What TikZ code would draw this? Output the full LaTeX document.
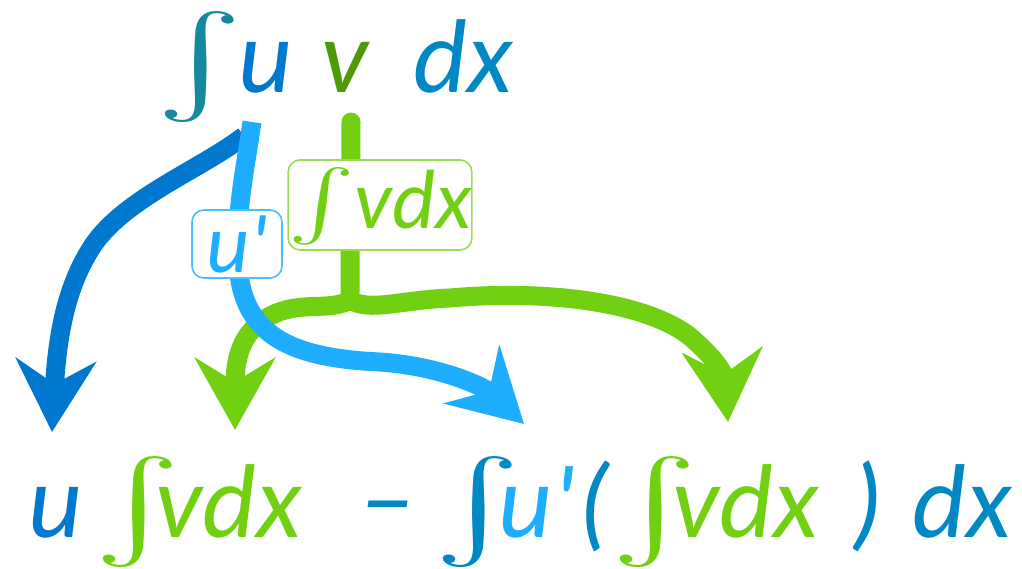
\documentclass[tikz,border=0pt]{standalone}
\usepackage{fontspec}
\setmainfont{Carlito}[Ligatures=TeXOff]
\usetikzlibrary{arrows.meta}
\definecolor{dblue}{HTML}{0078CF}
\definecolor{mblue}{HTML}{0088C4}
\definecolor{lblue}{HTML}{1EADFF}
\definecolor{lgreen}{HTML}{72D012}
\definecolor{dgreen}{HTML}{4E9A06}
\definecolor{intcol}{HTML}{17899E}
\definecolor{lbluebd}{HTML}{4DBEFF}
\definecolor{lgreenbd}{HTML}{9EDB55}
\newcommand\Intg[2]{{\normalsize\scalebox{#1}[#2]{$\int$}}}
\tikzset{
  big/.style={inner sep=0pt, anchor=base west, font=\fontsize{105}{110}\selectfont\itshape},
  intg/.style={big, xslant=-0.15, transform shape},
  lbl/.style={draw, rounded corners=12pt, fill=white, line width=1.6pt, inner sep=0pt,
              font=\fontsize{84}{90}\selectfont\itshape},
  stroke/.style={line width=19pt, line cap=butt},
  arr/.style={stroke, -{Stealth[length=72pt,width=80pt,inset=24pt]}},
}
\begin{document}
\begin{tikzpicture}[x=1pt,y=-1pt]
\useasboundingbox (0,0) rectangle (1022,568);
% top expression
\node[intg, text=intcol] (ti) at (153,92) {\Intg{15}{10}};
\node[big, text=dblue] (tu) at (238,92) {u};
\node[big, text=dgreen] (tv) at (321,92) {v};
\node[big, text=mblue] (tdx) at (413,92) {dx};
% bottom expression
\node[big, text=dblue] (bu) at (28,537) {u};
\node[intg, text=lgreen] (bi1) at (91,537) {\Intg{15}{10}};
\node[big, text=lgreen] (bvdx) at (155,537) {vdx};
\node[big, text=mblue] (bmin) at (360,537) {−};
\node[intg, text=mblue] (bi2) at (431,537) {\Intg{15}{10}};
\node[big, text=lblue] (bup) at (498,537) {u'};
\node[big, text=mblue] (blp) at (578,537) {(};
\node[intg, text=lgreen] (bi3) at (608,537) {\Intg{15}{10}};
\node[big, text=lgreen] (bvdx2) at (672,537) {vdx};
\node[big, text=mblue] (brp) at (851,537) {)};
\node[big, text=mblue] (bdx) at (912,537) {dx};
% connector end points
\coordinate (vs) at (351,122);
\coordinate (split) at (350,300);
\coordinate (us) at (252,122);
\coordinate (ds) at (244,136);
\coordinate (gl) at (235,430);
\coordinate (gr) at (728,422);
\coordinate (lb) at (524,424);
\coordinate (db) at (52,432);
% green
\draw[stroke, lgreen, line cap=round] (vs) -- ([yshift=8pt]split);
\draw[arr, lgreen] (split) .. controls (330,312) and (300,300) .. (270,316)
   .. controls (240,332) and (235,360) .. (gl);
\draw[arr, lgreen] (split) .. controls (370,312) and (400,300) .. (450,298)
   .. controls (540,290) and (640,300) .. (688,335)
   .. controls (712,355) and (724,372) .. (gr);
% dark blue
\draw[arr, dblue] (ds) .. controls (200,170) and (120,200) .. (90,250)
   .. controls (65,290) and (57,340) .. (db);
% light blue
\draw[arr, lblue] (us) .. controls (245,170) and (236,210) .. (238,260)
   .. controls (240,335) and (290,358) .. (380,362)
   .. controls (440,366) and (485,387) .. (lb);
% labels
\node[lbl, draw=lbluebd, text=lblue, minimum width=90pt, minimum height=68pt] (ubox) at (237,244) {u'};
\node[lbl, draw=lgreenbd, text=lgreen, minimum width=174pt, text height=68pt, text depth=22pt] (gbox) at (380,205) {\raisebox{4pt}{\Intg{10}{7}}vdx};
\end{tikzpicture}
\end{document}
